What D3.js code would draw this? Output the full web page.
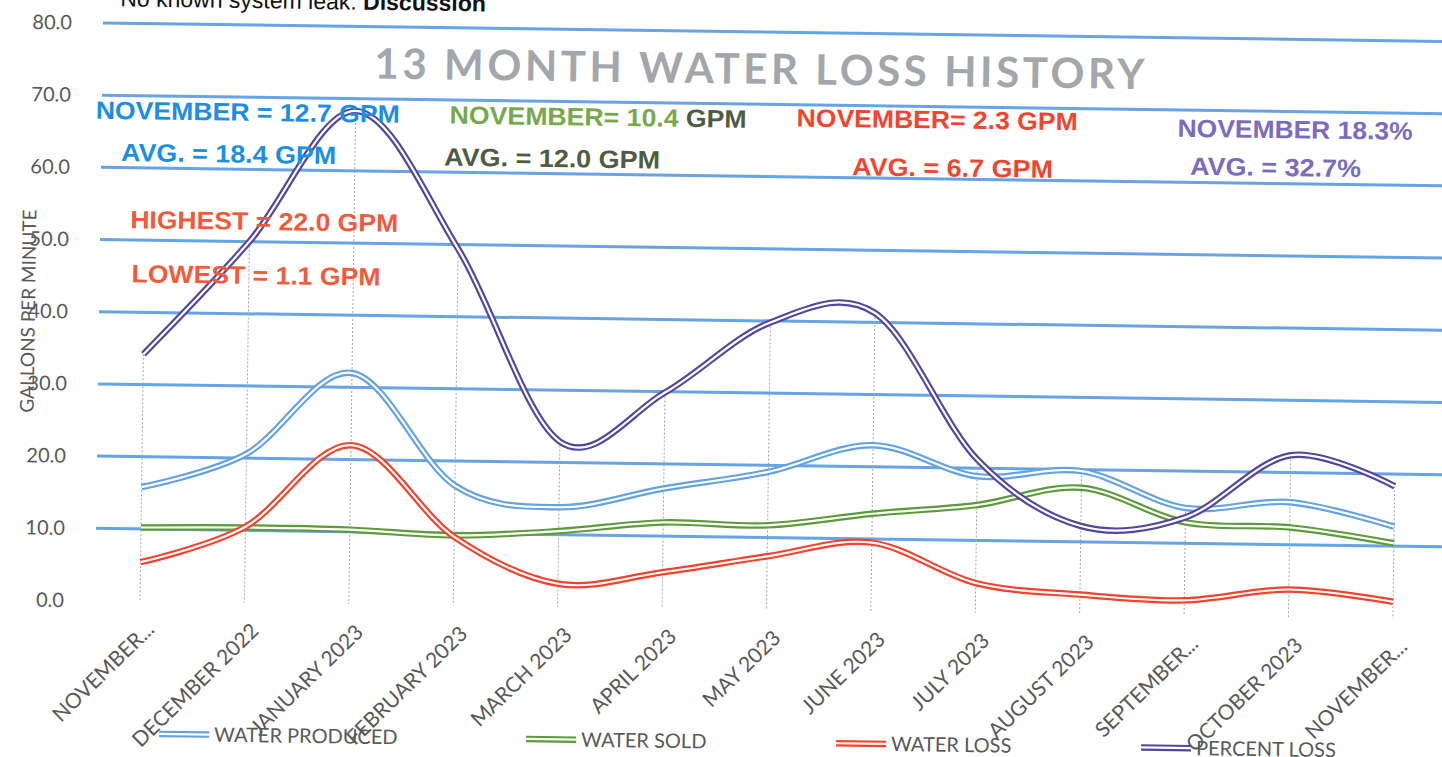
<!DOCTYPE html>
<html lang="en">
  <head>
    <meta charset="UTF-8" />
    <title>13 Month Water Loss History</title>
    <script src="https://d3js.org/d3.v7.min.js"></script>
    <style>
      body {
        margin: 0;
        background: #fff;
      }
      svg {
        display: block;
        background: #fff;
      }
      .tick-label,
      .cat-label,
      .legend-label,
      .axis-title {
        font-family: Lato, 'Open Sans', sans-serif;
        fill: #595959;
      }
      .note {
        font-family: 'Liberation Sans', Arial, sans-serif;
        font-weight: bold;
      }
    </style>
  </head>
  <body>
    <script>
      // categories (x axis labels as shown, truncated ones included)
      const months = [
        'NOVEMBER...', 'DECEMBER 2022', 'JANUARY 2023', 'FEBRUARY 2023',
        'MARCH 2023', 'APRIL 2023', 'MAY 2023', 'JUNE 2023', 'JULY 2023',
        'AUGUST 2023', 'SEPTEMBER...', 'OCTOBER 2023', 'NOVEMBER...',
      ];

      // series values, gallons per minute (percent loss in %)
      const waterProduced = [15.8, 20.6, 32.0, 16.6, 13.8, 16.6, 19.1, 23.0, 18.9, 19.8, 14.9, 15.9, 12.7];
      const waterSold = [10.2, 10.4, 10.3, 9.7, 10.5, 11.9, 11.7, 13.5, 14.9, 17.5, 12.9, 12.4, 10.4];
      const waterLoss = [5.4, 10.5, 22.0, 9.5, 3.2, 5.0, 7.4, 9.5, 4.1, 2.7, 2.1, 3.8, 2.3];
      const percentLoss = [34.2, 50.0, 68.3, 49.4, 22.9, 29.9, 39.8, 41.3, 21.2, 12.2, 13.6, 22.4, 18.3];

      const yTicks = [0, 10, 20, 30, 40, 50, 60, 70, 80];

      const seriesNames = ['WATER PRODUCED', 'WATER SOLD', 'WATER LOSS', 'PERCENT LOSS'];
      const seriesColors = ['#64a2e2', '#5d9a3c', '#f2432e', '#55469c'];

      // text boxes typed on the chart
      const notes = [
        { parts: [['NOVEMBER = 12.7 GPM', '#1c8ee3']], x: 89, y: 110, w: 304 },
        { parts: [['AVG. = 18.4 GPM', '#1c8ee3']], x: 115, y: 152, w: 215 },
        { parts: [['HIGHEST = 22.0 GPM', '#f15a3b']], x: 125, y: 219, w: 268 },
        { parts: [['LOWEST = 1.1 GPM', '#f15a3b']], x: 127, y: 273, w: 249 },
        { parts: [['NOVEMBER= 10.4 ', '#79a84c'], ['GPM', '#4e5c42']], x: 443, y: 110, w: 297 },
        { parts: [['AVG. = 12.0 GPM', '#4e5c42']], x: 438, y: 152, w: 216 },
        { parts: [['NOVEMBER= 2.3 GPM', '#f2452f']], x: 790, y: 108, w: 281 },
        { parts: [['AVG. = 6.7 GPM', '#f2452f']], x: 846, y: 156, w: 201 },
        { parts: [['NOVEMBER 18.3%', '#7b6cbd']], x: 1171, y: 113, w: 235 },
        { parts: [['AVG. = 32.7%', '#7b6cbd']], x: 1184, y: 151, w: 171 },
      ];

      const W = 1442, H = 757;
      const tilt = 0.79; // the scanned page is slightly skewed

      const svg = d3.select('body').append('svg').attr('width', W).attr('height', H);
      const g = svg.append('g').attr('transform', `rotate(${tilt},95,600.5)`);

      const x = d3.scalePoint().domain(d3.range(months.length)).range([140, 1393]);
      const y = d3.scaleLinear().domain([0, 80]).range([600.5, 22.9]);

      // cut-off line of text above the chart
      const headLine = g.append('text')
        .attr('x', 112).attr('y', 6)
        .attr('font-family', "'Liberation Sans', Arial, sans-serif")
        .attr('font-size', 23).attr('fill', '#111');
      headLine.append('tspan').text('No known system leak: ');
      headLine.append('tspan').attr('font-weight', 'bold').text('Discussion');

      // gridlines
      g.append('g')
        .selectAll('line')
        .data(yTicks.filter((d) => d > 0))
        .join('line')
        .attr('x1', 95).attr('x2', 1480)
        .attr('y1', (d) => y(d)).attr('y2', (d) => y(d))
        .attr('stroke', '#68a3e3').attr('stroke-width', 3);

      // y tick labels
      g.append('g')
        .selectAll('text')
        .data(yTicks)
        .join('text')
        .attr('class', 'tick-label')
        .attr('x', 64).attr('y', (d) => y(d))
        .attr('dy', '0.35em')
        .attr('text-anchor', 'end')
        .attr('font-size', 20)
        .text((d) => d.toFixed(1));

      g.append('text')
        .attr('class', 'axis-title')
        .attr('transform', 'translate(31,312) rotate(-90)')
        .attr('text-anchor', 'middle')
        .attr('font-size', 19)
        .text('GALLONS PER MINUTE');

      // title
      g.append('text')
        .attr('x', 367).attr('y', 60)
        .attr('dy', '0.35em')
        .attr('textLength', 770)
        .attr('lengthAdjust', 'spacing')
        .attr('font-family', "Lato, 'Open Sans', sans-serif")
        .attr('font-weight', 'bold')
        .attr('font-size', 42)
        .attr('fill', '#a3a7ab')
        .text('13 MONTH WATER LOSS HISTORY');

      const allSeries = [waterProduced, waterSold, waterLoss, percentLoss];

      // drop lines from the highest point to the axis
      g.append('g')
        .selectAll('line')
        .data(months.map((m, i) => d3.max(allSeries, (s) => s[i])))
        .join('line')
        .attr('x1', (d, i) => x(i)).attr('x2', (d, i) => x(i))
        .attr('y1', (d) => y(d)).attr('y2', y(0))
        .attr('stroke', '#a4a6ad').attr('stroke-width', 1)
        .attr('stroke-dasharray', '2,2');

      // smoothed double lines
      const line = d3.line()
        .x((d, i) => x(i))
        .y((d) => y(d))
        .curve(d3.curveCardinal.tension(0));

      allSeries.forEach((s, k) => {
        const sg = g.append('g');
        sg.append('path').attr('d', line(s)).attr('fill', 'none')
          .attr('stroke', seriesColors[k]).attr('stroke-width', 6.5);
        sg.append('path').attr('d', line(s)).attr('fill', 'none')
          .attr('stroke', '#fff').attr('stroke-width', 2.2);
      });

      // category labels
      g.append('g')
        .selectAll('text')
        .data(months)
        .join('text')
        .attr('class', 'cat-label')
        .attr('text-anchor', 'end')
        .attr('font-size', 21)
        .attr('transform', (d, i) => `translate(${x(i) + 16},630) rotate(-45)`)
        .text((d) => d);

      // legend
      const legendX = [161, 528, 838, 1143];
      const leg = g.append('g')
        .selectAll('g')
        .data(seriesNames)
        .join('g')
        .attr('transform', (d, i) => `translate(${legendX[i]},733)`);
      leg.append('line').attr('x1', 0).attr('x2', 50)
        .attr('stroke', (d, i) => seriesColors[i]).attr('stroke-width', 6.5);
      leg.append('line').attr('x1', 0).attr('x2', 50)
        .attr('stroke', '#fff').attr('stroke-width', 2.2);
      leg.append('text')
        .attr('class', 'legend-label')
        .attr('x', 55).attr('dy', '0.35em')
        .attr('font-size', 20)
        .text((d) => d);

      // annotations
      notes.forEach((n) => {
        const t = g.append('text')
          .attr('class', 'note')
          .attr('x', n.x).attr('y', n.y)
          .attr('dy', '0.35em')
          .attr('font-size', 25)
          .attr('textLength', n.w)
          .attr('lengthAdjust', 'spacingAndGlyphs');
        n.parts.forEach(([txt, col]) => t.append('tspan').attr('fill', col).text(txt));
      });
    </script>
  </body>
</html>
